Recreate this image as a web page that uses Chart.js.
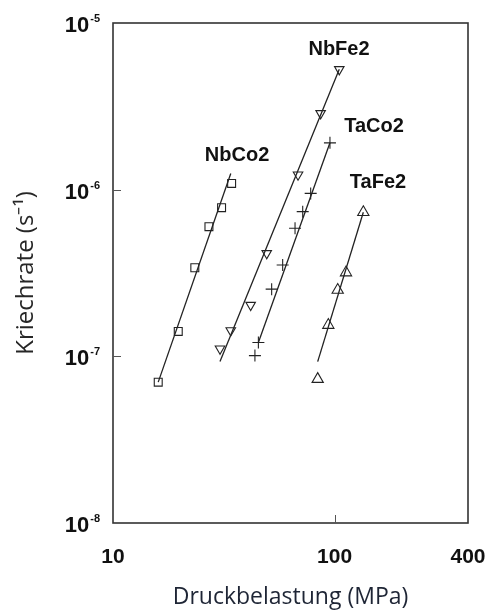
<!DOCTYPE html>
<html>
<head>
<meta charset="utf-8">
<script src="https://cdn.jsdelivr.net/npm/chart.js@4.4.1/dist/chart.umd.min.js"></script>
<style>
html,body{margin:0;padding:0;background:#fff;}
#wrap{width:489px;height:611px;}
</style>
</head>
<body>
<div id="wrap"><canvas id="c" width="489" height="611"></canvas></div>
<script>
// ---- data ----
const nbco2X = [16.0, 19.7, 23.4, 27.1, 30.9, 34.3];
const nbco2Y = [7.0e-8, 1.41e-7, 3.4e-7, 6.0e-7, 7.8e-7, 1.09e-6];
const nbfe2X = [30.4, 34.0, 41.8, 49.4, 68.4, 86.5, 105];
const nbfe2Y = [1.11e-7, 1.43e-7, 2.03e-7, 4.15e-7, 1.23e-6, 2.87e-6, 5.27e-6];
const taco2X = [43.7, 45.3, 52.0, 58.3, 66.3, 71.8, 78.0, 95.3];
const taco2Y = [1.01e-7, 1.21e-7, 2.53e-7, 3.53e-7, 5.87e-7, 7.38e-7, 9.5e-7, 1.91e-6];
const tafe2X = [83.9, 93.7, 103.3, 112.6, 134.8];
const tafe2Y = [7.3e-8, 1.54e-7, 2.5e-7, 3.18e-7, 7.32e-7];

// fit lines (end points)
const nbco2LineX = [16.0, 34.0];
const nbco2LineY = [7.0e-8, 1.25e-6];
const nbfe2LineX = [30.4, 105];
const nbfe2LineY = [9.3e-8, 5.27e-6];
const taco2LineX = [45.3, 95.3];
const taco2LineY = [1.21e-7, 1.91e-6];
const tafe2LineX = [83.9, 134.8];
const tafe2LineY = [9.3e-8, 7.32e-7];

// series labels and their anchor positions (data coords)
const seriesNames = ['NbCo2', 'NbFe2', 'TaCo2', 'TaFe2'];
const labelX = [36.3, 104.7, 150.6, 157];
const labelY = [1.61e-6, 6.98e-6, 2.41e-6, 1.1e-6];

// ticks
const xTicks = [10, 100, 400];
const yTicks = [1e-8, 1e-7, 1e-6, 1e-5];
const xMarks = [100];
const yMarks = [1e-7, 1e-6];

const pts = (xs, ys) => xs.map((x, i) => ({x: x, y: ys[i]}));
const INK = '#222';

function markerSet(label, xs, ys, style, radius, rotation) {
  return {
    label: label, data: pts(xs, ys), showLine: false,
    pointStyle: style, pointRadius: radius, pointRotation: rotation || 0,
    pointBorderColor: INK, pointBackgroundColor: 'rgba(255,255,255,0)',
    pointBorderWidth: 1.1
  };
}
function lineSet(label, xs, ys) {
  return {
    label: label, data: pts(xs, ys), showLine: true, pointRadius: 0,
    borderColor: INK, borderWidth: 1.3, fill: false
  };
}

const decor = {
  id: 'decor',
  afterDraw(chart) {
    const ctx = chart.ctx, a = chart.chartArea;
    const xs = chart.scales.x, ys = chart.scales.y;
    ctx.save();
    // frame
    ctx.strokeStyle = '#333';
    ctx.lineWidth = 1.6;
    ctx.strokeRect(a.left, a.top, a.right - a.left, a.bottom - a.top);
    // inner tick marks
    ctx.lineWidth = 1;
    ctx.strokeStyle = '#555';
    yMarks.forEach(v => {
      const p = Math.round(ys.getPixelForValue(v)) + 0.5;
      ctx.beginPath(); ctx.moveTo(a.left, p); ctx.lineTo(a.left + 8, p); ctx.stroke();
    });
    xMarks.forEach(v => {
      const p = Math.round(xs.getPixelForValue(v)) + 0.5;
      ctx.beginPath(); ctx.moveTo(p, a.bottom); ctx.lineTo(p, a.bottom - 8); ctx.stroke();
    });
    // y tick labels as 10^n
    ctx.fillStyle = '#111';
    yTicks.forEach(v => {
      const p = ys.getPixelForValue(v);
      const exp = String(Math.round(Math.log10(v)));
      ctx.font = 'bold 11px "Liberation Sans", Arial, sans-serif';
      const ew = ctx.measureText(exp).width;
      ctx.textAlign = 'left';
      ctx.textBaseline = 'middle';
      const right = a.left - 13;
      ctx.fillText(exp, right - ew, p - 4);
      ctx.font = 'bold 22px "Liberation Sans", Arial, sans-serif';
      ctx.textAlign = 'right';
      ctx.fillText('10', right - ew - 1, p + 3);
    });
    // series labels
    ctx.font = 'bold 20px "Liberation Sans", Arial, sans-serif';
    ctx.textAlign = 'center';
    ctx.textBaseline = 'middle';
    seriesNames.forEach((n, i) => {
      ctx.fillText(n, xs.getPixelForValue(labelX[i]), ys.getPixelForValue(labelY[i]));
    });
    ctx.restore();
  }
};

new Chart(document.getElementById('c'), {
  type: 'scatter',
  data: {
    datasets: [
      lineSet('NbCo2 fit', nbco2LineX, nbco2LineY),
      lineSet('NbFe2 fit', nbfe2LineX, nbfe2LineY),
      lineSet('TaCo2 fit', taco2LineX, taco2LineY),
      lineSet('TaFe2 fit', tafe2LineX, tafe2LineY),
      markerSet('NbCo2', nbco2X, nbco2Y, 'rect', 5.6),
      markerSet('NbFe2', nbfe2X, nbfe2Y, 'triangle', 5.5, 180),
      markerSet('TaCo2', taco2X, taco2Y, 'cross', 6),
      markerSet('TaFe2', tafe2X, tafe2Y, 'triangle', 6.5)
    ]
  },
  options: {
    responsive: false,
    animation: false,
    layout: {padding: {top: 23, right: 21, left: 0, bottom: 0}},
    plugins: {legend: {display: false}, tooltip: {enabled: false}},
    scales: {
      x: {
        type: 'logarithmic', min: 10, max: 400,
        afterBuildTicks: s => { s.ticks = xTicks.map(v => ({value: v})); },
        afterFit: s => { s.height = 88; s.paddingRight = 0; s.paddingLeft = 0; },
        grid: {display: false},
        border: {display: false},
        ticks: {
          callback: v => String(v),
          color: '#111', padding: 14, maxRotation: 0, autoSkip: false,
          font: {family: '"Liberation Sans", Arial, sans-serif', size: 21, weight: 'bold'}
        },
        title: {
          display: true, text: 'Druckbelastung (MPa)', color: '#1e2535',
          padding: {top: 16, bottom: 0},
          font: {family: '"Open Sans", sans-serif', size: 23}
        }
      },
      y: {
        type: 'logarithmic', min: 1e-8, max: 1e-5,
        afterBuildTicks: s => { s.ticks = yTicks.map(v => ({value: v})); },
        afterFit: s => { s.width = 113; s.paddingTop = 0; s.paddingBottom = 0; },
        grid: {display: false},
        border: {display: false},
        ticks: {display: false},
        title: {
          display: true, text: 'Kriechrate (s\u207B\u00B9)', color: '#262626',
          padding: {top: 12, bottom: 0},
          font: {family: '"Open Sans", sans-serif', size: 24}
        }
      }
    }
  },
  plugins: [decor]
});
</script>
</body>
</html>
